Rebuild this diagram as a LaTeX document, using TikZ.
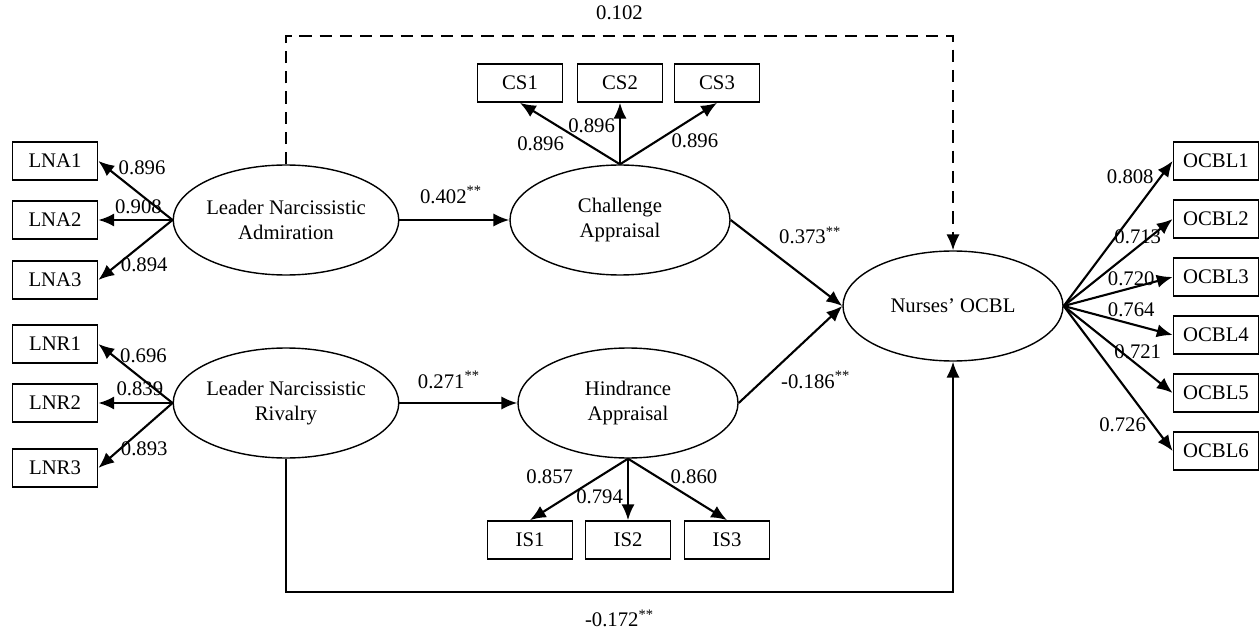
\documentclass[tikz,border=0pt]{standalone}
\usepackage{fontspec}
\setmainfont{Liberation Serif}
\usetikzlibrary{shapes.geometric,arrows.meta}

\tikzstyle{latent} = [ellipse, minimum width=4.4cm, minimum height=2.2cm, inner sep=0pt, text centered, align=center, draw=black, line width=0.8pt]
\tikzstyle{indicator} = [rectangle, minimum width=1.7cm, minimum height=0.76cm, inner sep=0pt, text centered, draw=black, line width=1pt]
\tikzstyle{arrow} = [line width=1.2pt,-{Latex[length=9pt,width=7.5pt]}]
\tikzstyle{dasharrow} = [arrow, dash pattern=on 7pt off 4.5pt]
\tikzstyle{weight} = [inner sep=0pt]

\begin{document}
\begin{tikzpicture}[node distance=1cm, font=\fontsize{11.8}{14.5}\selectfont]
  \useasboundingbox (0,0) rectangle (25.18,12.58);

  \node (lna) [latent] at (5.72,8.18) {Leader Narcissistic\\Admiration};
  \node (lnr) [latent] at (5.72,4.52) {Leader Narcissistic\\Rivalry};
  \node (ca) [latent, right of=lna, xshift=5.68cm] {Challenge\\Appraisal};
  \node (ha) [latent, right of=lnr, xshift=5.84cm] {Hindrance\\Appraisal};
  \node (nurses) [latent] at (19.06,6.46) {Nurses' OCBL};

  % --- %

  \node (lna2) [indicator, left of=lna, xshift=-3.62cm] {LNA2};
  \node (lna1) [indicator, above of=lna2, yshift=0.18cm] {LNA1};
  \node (lna3) [indicator, below of=lna2, yshift=-0.2cm] {LNA3};
  \node (lnr2) [indicator, left of=lnr, xshift=-3.62cm] {LNR2};
  \node (lnr1) [indicator, above of=lnr2, yshift=0.18cm] {LNR1};
  \node (lnr3) [indicator, below of=lnr2, yshift=-0.3cm] {LNR3};
  \node (cs2) [indicator, above of=ca, yshift=1.74cm] {CS2};
  \node (cs1) [indicator, left of=cs2, xshift=-1cm] {CS1};
  \node (cs3) [indicator, right of=cs2, xshift=0.94cm] {CS3};
  \node (is2) [indicator, below of=ha, yshift=-1.74cm] {IS2};
  \node (is1) [indicator, left of=is2, xshift=-0.96cm] {IS1};
  \node (is3) [indicator, right of=is2, xshift=0.98cm] {IS3};
  \node (ocbl1) [indicator] at (24.32,9.36) {OCBL1};
  \node (ocbl2) [indicator, below of=ocbl1, yshift=-0.16cm] {OCBL2};
  \node (ocbl3) [indicator, below of=ocbl2, yshift=-0.16cm] {OCBL3};
  \node (ocbl4) [indicator, below of=ocbl3, yshift=-0.16cm] {OCBL4};
  \node (ocbl5) [indicator, below of=ocbl4, yshift=-0.16cm] {OCBL5};
  \node (ocbl6) [indicator, below of=ocbl5, yshift=-0.16cm] {OCBL6};

  % --- %

  \draw [arrow] (lna.west) -- node (wa1) [weight, pos=0.74, anchor=south west] {0.896} (lna1.east);
  \draw [arrow] (lna.west) -- node (wa2) [weight, pos=0.46, anchor=south, yshift=0.1cm] {0.908} (lna2.east);
  \draw [arrow] (lna.west) -- node (wa3) [weight, pos=0.71, anchor=west, yshift=-0.05cm] {0.894} (lna3.east);
  \draw [arrow] (lnr.west) -- node (wr1) [weight, pos=0.72, anchor=south west, yshift=-0.07cm] {0.696} (lnr1.east);
  \draw [arrow] (lnr.west) -- node (wr2) [weight, pos=0.44, anchor=south, yshift=0.12cm] {0.839} (lnr2.east);
  \draw [arrow] (lnr.west) -- node (wr3) [weight, pos=0.71, anchor=west] {0.893} (lnr3.east);

  \draw [arrow] (ca.north) -- node (wc1) [weight, pos=0.55, anchor=north east, yshift=-0.1cm] {0.896} (cs1.south);
  \draw [arrow] (ca.north) -- node (wc2) [weight, pos=0.63, anchor=east, xshift=-0.08cm] {0.896} (cs2.south);
  \draw [arrow] (ca.north) -- node (wc3) [weight, pos=0.52, anchor=north west] {0.896} (cs3.south);
  \draw [arrow] (ha.south) -- node (wi1) [weight, pos=0.55, anchor=south east, yshift=0.15cm] {0.857} (is1.north);
  \draw [arrow] (ha.south) -- node (wi2) [weight, pos=0.62, anchor=east, xshift=-0.08cm] {0.794} (is2.north);
  \draw [arrow] (ha.south) -- node (wi3) [weight, pos=0.42, anchor=south west] {0.860} (is3.north);

  \draw [arrow] (nurses.east) -- node (wo1) [weight, pos=0.89, anchor=east, xshift=-0.12cm] {0.808} (ocbl1.west);
  \draw [arrow] (nurses.east) -- node (wo2) [weight, pos=0.68, yshift=0.2cm] {0.713} (ocbl2.west);
  \draw [arrow] (nurses.east) -- node (wo3) [weight, pos=0.62, yshift=0.18cm] {0.720} (ocbl3.west);
  \draw [arrow] (nurses.east) -- node (wo4) [weight, pos=0.62, yshift=0.28cm] {0.764} (ocbl4.west);
  \draw [arrow] (nurses.east) -- node (wo5) [weight, pos=0.68, yshift=0.26cm] {0.721} (ocbl5.west);
  \draw [arrow] (nurses.east) -- node (wo6) [weight, pos=0.82, anchor=east, xshift=-0.12cm] {0.726} (ocbl6.west);

  % --- %

  \draw [arrow] (lna) -- node (p1) [weight, pos=0.47, anchor=south, yshift=0.3cm] {0.402\textsuperscript{**}} (ca);
  \draw [arrow] (lnr) -- node (p2) [weight, pos=0.42, anchor=south, yshift=0.27cm] {0.271\textsuperscript{**}} (ha);
  \draw [arrow] (ca.east) -- node (p3) [weight, pos=0.425, anchor=south west, yshift=0.23cm] {0.373\textsuperscript{**}} (nurses.west);
  \draw [arrow] (ha.east) -- node (p4) [weight, pos=0.4, anchor=north west, yshift=-0.12cm] {-0.186\textsuperscript{**}} (nurses.west);
  \draw [dasharrow] (lna.north) -- ++(0,2.56) -| node (p5) [weight, pos=0.25, anchor=south, yshift=0.3cm] {0.102} (nurses.north);
  \draw [arrow] (lnr.south) -- ++(0,-2.66) -| node (p6) [weight, pos=0.25, anchor=north, yshift=-0.34cm] {-0.172\textsuperscript{**}} (nurses.south);

\end{tikzpicture}
\end{document}
